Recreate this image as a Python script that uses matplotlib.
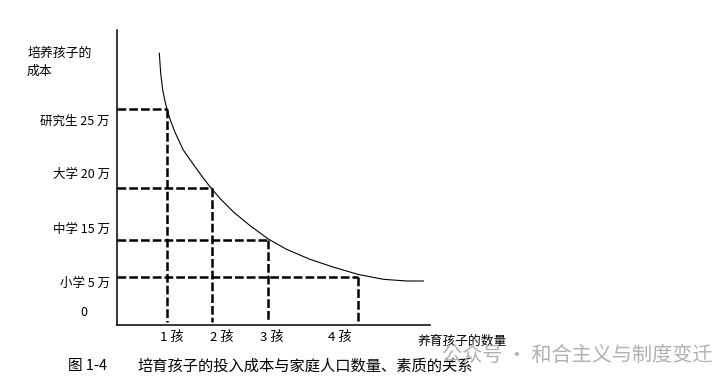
import numpy as np
import matplotlib.pyplot as plt

plt.rcParams['font.family'] = ['Noto Sans CJK SC', 'DejaVu Sans']

# schematic units: x = number of children position, y = cost level
curve_x = [0.846, 0.874, 0.914, 0.966, 1.006, 1.074, 1.16, 1.326, 1.526, 1.726, 1.88,
           2.06, 2.326, 2.66, 3.026, 3.394, 3.86, 4.326, 4.826, 5.326, 5.794, 6.126]
curve_y = [31.45, 29.13, 27.2, 25.75, 24.85, 23.6, 22.3, 20.25, 18.6, 17.0, 15.85,
           14.65, 13.1, 11.5, 9.95, 8.75, 7.6, 6.7, 5.85, 5.29, 5.09, 5.09]

kid_pos = [1.0, 1.89, 3.02, 4.82]
kid_labels = ['1 孩', '2 孩', '3 孩', '4 孩']
kid_label_x = [1.1, 2.1, 3.1, 4.46]
cost_level = [25.0, 15.85, 9.8, 5.5]
cost_labels = ['研究生 25 万', '大学 20 万', '中学 15 万', '小学 5 万', '0']
cost_label_y = [23.6, 17.4, 11.1, 4.8, 1.4]

W, H = 727, 381
fig = plt.figure(figsize=(W/100, H/100), dpi=100)
ax = fig.add_axes([117/W, 56/H, 313/W, 295/H])
ax.set_xlim(0, 6.26)
ax.set_ylim(0, 34.14)
for s in ['top', 'right']:
    ax.spines[s].set_visible(False)
for s in ['left', 'bottom']:
    ax.spines[s].set_linewidth(1.1)
ax.set_xticks([])
ax.set_yticks([])

ax.plot(curve_x, curve_y, color='black', lw=0.8)

for xk, yk in zip(kid_pos, cost_level):
    ax.plot([0, xk], [yk, yk], color='black', lw=1.8, dashes=(3.5, 1.2))
    ax.plot([xk, xk], [yk, 0.3], color='black', lw=1.8, dashes=(3.5, 1.2))

# y labels, right-aligned at the left of the axis
for lab, yv in zip(cost_labels, cost_label_y):
    xpos = -0.6 if lab == '0' else -0.14
    ax.text(xpos, yv, lab, ha='right', va='center', fontsize=9, clip_on=False)

for lab, xv in zip(kid_labels, kid_label_x):
    ax.text(xv, -1.5, lab, ha='center', va='center', fontsize=9.5, clip_on=False)

fig.text(27/W, 1 - 53/H, '培养孩子的', ha='left', va='center', fontsize=9.3)
fig.text(27/W, 1 - 71/H, '成本', ha='left', va='center', fontsize=9.3)
fig.text(418/W, 1 - 341/H, '养育孩子的数量', ha='left', va='center', fontsize=9.2)

fig.text(68/W, 1 - 366/H, '图 1-4', ha='left', va='center', fontsize=10.5)
fig.text(137/W, 1 - 366/H, '培育孩子的投入成本与家庭人口数量、素质的关系',
         ha='left', va='center', fontsize=11)

fig.text(442/W, 1 - 355/H, '公众号 · 和合主义与制度变迁', ha='left', va='center',
         fontsize=14.5, color='#b0b0b0')

fig.savefig('out.png', dpi=100)
